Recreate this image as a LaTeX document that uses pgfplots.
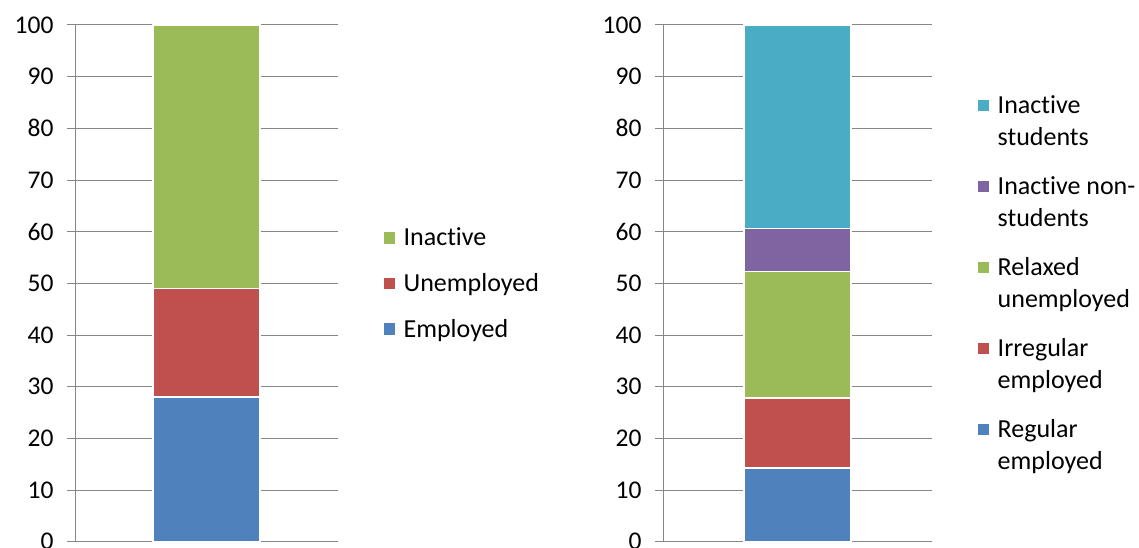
\documentclass[border=0pt]{standalone}
\usepackage{pgfplots}
\pgfplotsset{compat=1.18}
\usepackage{fontspec}
\setmainfont[Ligatures={NoCommon,NoRare}]{Carlito}
\definecolor{cblue}{HTML}{4F81BD}
\definecolor{cred}{HTML}{C0504D}
\definecolor{cgreen}{HTML}{9BBB59}
\definecolor{cpurple}{HTML}{8064A2}
\definecolor{caqua}{HTML}{4BACC6}
\definecolor{axgray}{HTML}{868686}
\pgfplotsset{
  mystyle/.style={
    scale only axis, height=516.7pt,
    ymin=0, ymax=100, ytick={0,10,...,100},
    xmin=-1, xmax=1, xtick=\empty,
    ybar stacked, bar width=107pt,
    axis x line*=bottom, axis y line*=left,
    axis line style={draw=axgray, line width=1pt, -},
    ymajorgrids, grid style={draw=axgray, line width=1pt},
    tick align=outside, major tick length=8pt,
    ytick style={draw=axgray, line width=1pt},
    /pgf/number format/assume math mode=true,
    tick label style={font=\fontsize{25.5}{30}\selectfont},
    yticklabel style={xshift=-10pt},
    legend style={draw=none, fill=none, inner sep=0pt,
      font=\fontsize{26}{31.5}\selectfont, cells={anchor=west, align=left},
      /tikz/every odd column/.append style={column sep=5pt}},
    reverse legend,
    every axis plot/.append style={draw=white, line width=1.5pt},
  }
}
\begin{document}
\begin{tikzpicture}[x=1pt,y=1pt]
\path[use as bounding box] (0,0) rectangle (1139,547);
\begin{axis}[mystyle, width=263pt, at={(75pt,5.3pt)}, anchor=south west,
  legend style={at={(1.167,0.5)}, anchor=west, row sep=22pt},
  legend image code/.code={\fill[#1] (0pt,-6.5pt) rectangle (13pt,6.5pt);}]
\addplot[fill=cblue] coordinates {(0,28.0)};
\addplot[fill=cred] coordinates {(0,21.0)};
\addplot[fill=cgreen] coordinates {(0,51.0)};
\legend{Employed,Unemployed,Inactive}
\end{axis}
\begin{axis}[mystyle, width=269pt, at={(663pt,5.3pt)}, anchor=south west,
  legend style={at={(1.1636,0.5)}, anchor=west, row sep=26pt},
  legend image code/.code={\fill[#1] (0pt,9.25pt) rectangle (13pt,22.25pt);}]
\addplot[fill=cblue] coordinates {(0,14.3)};
\addplot[fill=cred] coordinates {(0,13.5)};
\addplot[fill=cgreen] coordinates {(0,24.5)};
\addplot[fill=cpurple] coordinates {(0,8.3)};
\addplot[fill=caqua] coordinates {(0,39.4)};
\legend{Regular\\employed,Irregular\\employed,Relaxed\\unemployed,Inactive non-\\students,Inactive\\students}
\end{axis}
\end{tikzpicture}
\end{document}
